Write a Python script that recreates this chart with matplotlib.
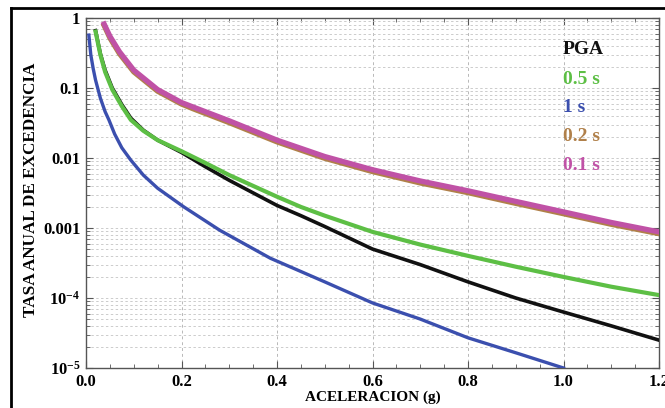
import matplotlib
matplotlib.use('Agg')
from matplotlib import pyplot as plt
from matplotlib.ticker import LogLocator, FixedLocator, NullFormatter
from matplotlib.lines import Line2D

plt.rcParams['font.family'] = ['Liberation Serif', 'DejaVu Serif']
plt.rcParams['mathtext.fontset'] = 'custom'
plt.rcParams['mathtext.rm'] = 'Liberation Serif'
plt.rcParams['mathtext.bf'] = 'Liberation Serif:bold'

# hazard curves (acceleration in g, annual rate)
x_01 = [0.038, 0.05, 0.07, 0.1, 0.15, 0.2, 0.226, 0.3, 0.4, 0.5, 0.6, 0.7, 0.8, 0.9, 1.0, 1.1, 1.2]
y_01 = [0.82, 0.55, 0.33, 0.18, 0.095, 0.062, 0.053, 0.034, 0.018, 0.0105, 0.0068, 0.0047, 0.0034, 0.0024, 0.0017, 0.0012, 0.00088]

x_02 = [0.038, 0.05, 0.07, 0.1, 0.15, 0.2, 0.226, 0.3, 0.4, 0.5, 0.6, 0.7, 0.8, 0.9, 1.0, 1.1, 1.2]
y_02 = [0.78, 0.52, 0.31, 0.17, 0.09, 0.059, 0.05, 0.032, 0.017, 0.0099, 0.0064, 0.0044, 0.0032, 0.00225, 0.0016, 0.00113, 0.00083]

x_05 = [0.02, 0.03, 0.04, 0.055, 0.075, 0.094, 0.12, 0.15, 0.2, 0.25, 0.3, 0.4, 0.45, 0.5, 0.6, 0.7, 0.8, 0.9, 1.0, 1.1, 1.2]
y_05 = [0.64, 0.30, 0.17, 0.095, 0.055, 0.035, 0.0245, 0.018, 0.0125, 0.0085, 0.0057, 0.0028, 0.002, 0.0015, 0.00088, 0.00058, 0.0004, 0.00028, 0.0002, 0.000145, 0.00011]

x_pga = [0.02, 0.03, 0.04, 0.055, 0.075, 0.094, 0.12, 0.15, 0.2, 0.25, 0.3, 0.4, 0.45, 0.5, 0.6, 0.7, 0.8, 0.9, 1.0, 1.1, 1.2]
y_pga = [0.66, 0.31, 0.18, 0.1, 0.058, 0.037, 0.025, 0.018, 0.012, 0.0075, 0.0048, 0.0021, 0.0015, 0.00105, 0.0005, 0.0003, 0.00017, 0.0001, 6.3e-5, 4e-5, 2.5e-5]

x_1 = [0.006, 0.01, 0.015, 0.02, 0.03, 0.04, 0.048, 0.06, 0.075, 0.094, 0.12, 0.15, 0.205, 0.28, 0.386, 0.5, 0.6, 0.7, 0.8, 0.9, 1.0]
y_1 = [0.57, 0.3, 0.19, 0.13, 0.072, 0.046, 0.035, 0.022, 0.014, 0.0093, 0.0057, 0.0037, 0.002, 0.00093, 0.00037, 0.00017, 8.5e-5, 5e-5, 2.7e-5, 1.65e-5, 1e-5]

labels = ['PGA', '0.5 s', '1 s', '0.2 s', '0.1 s']
colors = ['#111111', '#5dbf45', '#3b4fae', '#b0804a', '#c052a6']

xticks = [0.0, 0.2, 0.4, 0.6, 0.8, 1.0, 1.2]
xtick_labels = ['0.0', '0.2', '0.4', '0.6', '0.8', '1.0', '1.2']
yticks = [1e-5, 1e-4, 1e-3, 1e-2, 1e-1, 1]
ytick_labels = [r'$\mathbf{10^{-5}}$', r'$\mathbf{10^{-4}}$', '0.001', '0.01', '0.1', '1']

fig = plt.figure(figsize=(6.65, 4.08), dpi=100)
ax = fig.add_axes([86 / 665, 40 / 408, 573 / 665, 350 / 408])

ax.plot(x_1, y_1, color=colors[2], lw=2.4, zorder=3)
ax.plot(x_pga, y_pga, color=colors[0], lw=2.6, zorder=3)
ax.plot(x_05, y_05, color=colors[1], lw=3.0, zorder=4)
ax.plot(x_02, y_02, color=colors[3], lw=3.8, zorder=5)
ax.plot(x_01, y_01, color=colors[4], lw=3.8, zorder=6)

ax.set_yscale('log')
ax.set_xlim(0, 1.2)
ax.set_ylim(1e-5, 1)

ax.set_xticks(xticks)
ax.set_xticklabels(xtick_labels)
ax.xaxis.set_minor_locator(FixedLocator([i * 0.05 for i in range(25)]))
ax.set_yticks(yticks)
ax.set_yticklabels(ytick_labels)
ax.yaxis.set_minor_locator(LogLocator(base=10, subs=range(2, 10)))
ax.yaxis.set_minor_formatter(NullFormatter())

for lab in ax.get_xticklabels() + ax.get_yticklabels():
    lab.set_fontweight('bold')
    lab.set_fontsize(12)

ax.tick_params(which='both', direction='in', top=True, right=True, colors='#555555', labelcolor='black')
ax.tick_params(which='major', length=5, width=0.8)
ax.tick_params(axis='x', which='major', pad=4)
ax.tick_params(axis='y', which='major', pad=4)
ax.tick_params(which='minor', length=3, width=0.6)

ax.grid(True, axis='x', which='major', color='#b8b8b8', lw=0.7, ls=(0, (3, 3)))
ax.grid(True, axis='y', which='both', color='#cccccc', lw=0.7, ls=(0, (2.5, 2.5)))

for sp in ax.spines.values():
    sp.set_color('#555555')
    sp.set_linewidth(1.0)

ax.set_xlabel('ACELERACION (g)', fontsize=11, fontweight='bold', labelpad=1)
fig.text(31 / 665, 1 - 190 / 408, 'TASA ANUAL DE EXCEDENCIA', rotation=90,
         fontsize=12.3, fontweight='bold', ha='center', va='center')

# colored text legend
for i, (lab, c) in enumerate(zip(labels, colors)):
    fig.text(563 / 665, 1 - (50 + 29 * i) / 408, lab, color=c, fontsize=14,
             fontweight='bold', va='center', ha='left')

# outer frame, cut at right and bottom
fig.add_artist(Line2D([10.5 / 665, 10.5 / 665], [0, 1 - 8 / 408], transform=fig.transFigure, color='black', lw=2))
fig.add_artist(Line2D([10.5 / 665, 1], [1 - 8 / 408, 1 - 8 / 408], transform=fig.transFigure, color='black', lw=2))

fig.savefig('out.png', dpi=100)
